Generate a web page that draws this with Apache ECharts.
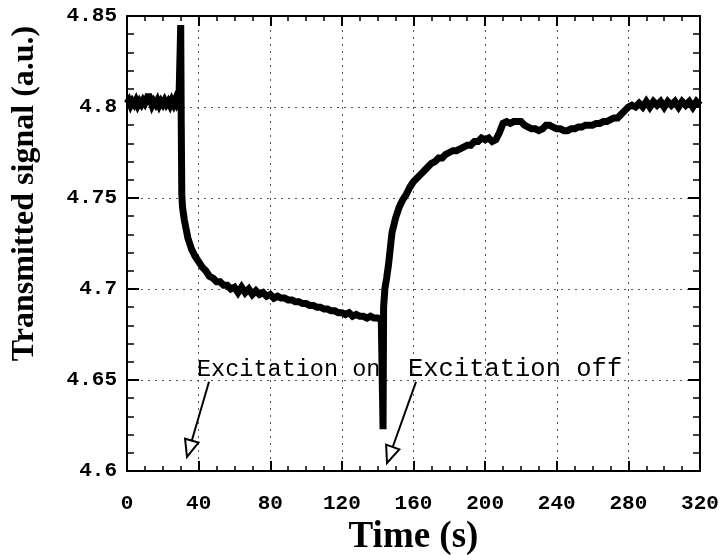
<!DOCTYPE html>
<html>
<head>
<meta charset="utf-8">
<script src="https://cdn.jsdelivr.net/npm/echarts@6/dist/echarts.min.js"></script>
<style>
html,body{margin:0;padding:0;background:#fff;}
#chart{width:725px;height:555px;}
</style>
</head>
<body>
<div id="chart"></div>
<script>
// ---- data ----
var times = [
  0,1,2,3,4,5,6,7,8,9,10,11,12,13,14,15,16,17,18,19,20,21,22,23,24,25,26,27,28,29,29.8,
  30,30.3,30.6,31,32,33,34,35,36,37,38,39,
  40,42,44,46,48,50,52,54,56,58,60,62,64,66,68,70,72,74,76,78,80,82,84,86,88,90,
  92,94,96,98,100,102,104,106,108,110,112,114,116,118,120,122,124,126,128,130,
  132,134,136,138,140,142,142.8,143,143.3,144,145,146,147,148,149,150,152,154,156,158,
  160,162,164,166,168,170,172,174,176,178,180,182,184,186,188,190,192,194,196,198,
  200,202,204,206,208,210,212,214,216,218,220,222,224,226,228,230,232,234,236,238,
  240,242,244,246,248,250,252,254,256,258,260,262,264,266,268,270,272,274,276,278,
  280,282,284,286,288,290,292,294,296,298,300,302,304,306,308,310,312,314,316,318,320
];
var signal = [
  4.802,4.8035,4.801,4.803,4.8015,4.8035,4.801,4.803,4.8015,4.8035,4.802,4.804,4.807,4.804,4.801,4.803,4.8015,4.8035,4.801,4.803,4.8015,4.8035,4.8015,4.803,4.801,4.8035,4.8015,4.804,4.8015,4.803,4.802,
  4.845,4.790,4.752,4.745,4.738,4.733,4.728,4.725,4.722,4.721,4.718,4.717,
  4.715,4.712,4.710,4.707,4.706,4.704,4.704,4.702,4.702,4.700,4.701,4.698,4.701,4.698,4.700,4.697,4.699,4.697,4.698,4.696,4.697,4.695,4.696,4.695,4.695,4.694,
  4.694,4.693,4.693,4.692,4.692,4.691,4.691,4.690,4.690,4.689,4.689,4.688,4.688,4.687,4.687,4.686,4.687,4.685,4.686,4.685,
  4.685,4.684,4.685,4.684,4.684,4.683,4.684,4.623,4.690,4.700,4.706,4.713,4.722,4.731,4.735,4.739,4.745,4.749,4.752,4.756,
  4.759,4.761,4.763,4.765,4.767,4.769,4.770,4.772,4.772,4.774,4.775,4.776,4.776,4.777,4.778,4.779,4.779,4.781,4.781,4.783,
  4.782,4.783,4.781,4.782,4.786,4.791,4.792,4.791,4.792,4.792,4.792,4.790,4.789,4.788,4.788,4.787,4.788,4.790,4.790,4.789,
  4.788,4.788,4.787,4.787,4.788,4.788,4.789,4.789,4.790,4.790,4.790,4.791,4.791,4.792,4.792,4.793,4.794,4.794,4.796,4.798,
  4.800,4.801,4.800,4.802,4.800,4.803,4.800,4.803,4.801,4.803,4.800,4.803,4.801,4.803,4.800,4.803,4.801,4.803,4.800,4.803,4.801
];
var xTicks = [0, 320, 40];          // min, max, interval
var yTicks = [4.6, 4.85, 0.05];     // min, max, interval
var xTitle = 'Time (s)';
var yTitle = 'Transmitted signal (a.u.)';
var annoTexts = ['Excitation on', 'Excitation off'];
var annoTextAt = [[39.1, 4.6557], [156.9, 4.6557]];
var arrowFrom = [[45.8, 4.649], [161.4, 4.649]];
var arrowTo = [[33.5, 4.6077], [145.2, 4.6044]];

// ---- chart ----
var chart = echarts.init(document.getElementById('chart'), null, {renderer: 'canvas'});
var pts = times.map(function (t, i) { return [t, signal[i]]; });
var labelFont = {color: '#000', fontFamily: '"Liberation Mono", "Courier New", monospace', fontWeight: 'bold', fontSize: 21};

function xAx(pos, main) {
  return {
    type: 'value', position: pos, min: xTicks[0], max: xTicks[1], interval: xTicks[2],
    axisLine: {show: true, onZero: false, lineStyle: {color: '#000', width: 2}},
    axisTick: {show: true, inside: true, length: 10, lineStyle: {color: '#000', width: 2}},
    minorTick: {show: true, splitNumber: 4, length: 5, lineStyle: {color: '#000', width: 1.5}},
    axisLabel: main ? Object.assign({show: true, margin: 22}, labelFont) : {show: false},
    splitLine: {show: main, lineStyle: {type: [2, 5], color: '#555', width: 1}},
    name: main ? xTitle : '', nameLocation: 'middle', nameGap: 36,
    nameTextStyle: {color: '#000', fontFamily: '"Liberation Serif", "Times New Roman", serif', fontWeight: 'bold', fontSize: 37}
  };
}
function yAx(pos, main) {
  return {
    type: 'value', position: pos, min: yTicks[0], max: yTicks[1], interval: yTicks[2],
    axisLine: {show: true, onZero: false, lineStyle: {color: '#000', width: 2}},
    axisTick: {show: true, inside: true, length: 12, lineStyle: {color: '#000', width: 2}},
    minorTick: {show: true, splitNumber: 5, length: 7, lineStyle: {color: '#000', width: 1.5}},
    axisLabel: main ? Object.assign({show: true, margin: 10, padding: [8, 0, 0, 0],
      formatter: function (v) { return String(+v.toFixed(2)); }}, labelFont) : {show: false},
    splitLine: {show: main, lineStyle: {type: [2, 5], color: '#555', width: 1}}
  };
}

chart.setOption({
  animation: false,
  backgroundColor: '#fff',
  grid: {left: 127, right: 25, top: 16, bottom: 84, containLabel: false, outerBoundsMode: 'none'},
  xAxis: [xAx('bottom', true), xAx('top', false)],
  yAxis: [yAx('left', true), yAx('right', false)],
  series: [{
    type: 'line', data: pts, xAxisIndex: 0, yAxisIndex: 0,
    showSymbol: false, symbol: 'none', smooth: false, z: 5,
    lineStyle: {color: '#000', width: 7, join: 'miter', miterLimit: 3}
  }]
});

function drawAnno() {
  var g = [];
  var gr = chart.getModel().getComponent('grid', 0).coordinateSystem.getRect();
  g.push({
    type: 'text', x: 25, y: gr.y + gr.height * 0.39, rotation: Math.PI / 2,
    style: {text: yTitle, x: 0, y: 0, align: 'center', verticalAlign: 'middle',
      font: 'bold 32px "Liberation Serif", "Times New Roman", serif', fill: '#000'}
  });
  var fontSizes = [23.5, 25.5];
  for (var i = 0; i < annoTexts.length; i++) {
    var tp = chart.convertToPixel({xAxisIndex: 0, yAxisIndex: 0}, annoTextAt[i]);
    g.push({
      type: 'text', x: tp[0], y: tp[1], z: 20,
      style: {text: annoTexts[i], x: 0, y: 0, align: 'left', verticalAlign: 'middle',
        font: fontSizes[i] + 'px "Liberation Mono", "Courier New", monospace', fill: '#000'}
    });
    var a = chart.convertToPixel({xAxisIndex: 0, yAxisIndex: 0}, arrowFrom[i]);
    var b = chart.convertToPixel({xAxisIndex: 0, yAxisIndex: 0}, arrowTo[i]);
    var dx = b[0] - a[0], dy = b[1] - a[1], len = Math.sqrt(dx * dx + dy * dy);
    var ux = dx / len, uy = dy / len, hl = 17, hw = 7;
    var bx = b[0] - ux * hl, by = b[1] - uy * hl;
    g.push({type: 'line', z: 20, shape: {x1: a[0], y1: a[1], x2: bx, y2: by},
      style: {stroke: '#000', lineWidth: 2}});
    g.push({type: 'polygon', z: 21, shape: {points: [[b[0], b[1]], [bx - uy * hw, by + ux * hw], [bx + uy * hw, by - ux * hw]]},
      style: {fill: '#fff', stroke: '#000', lineWidth: 2}});
  }
  chart.setOption({graphic: g});
}
drawAnno();
</script>
</body>
</html>
